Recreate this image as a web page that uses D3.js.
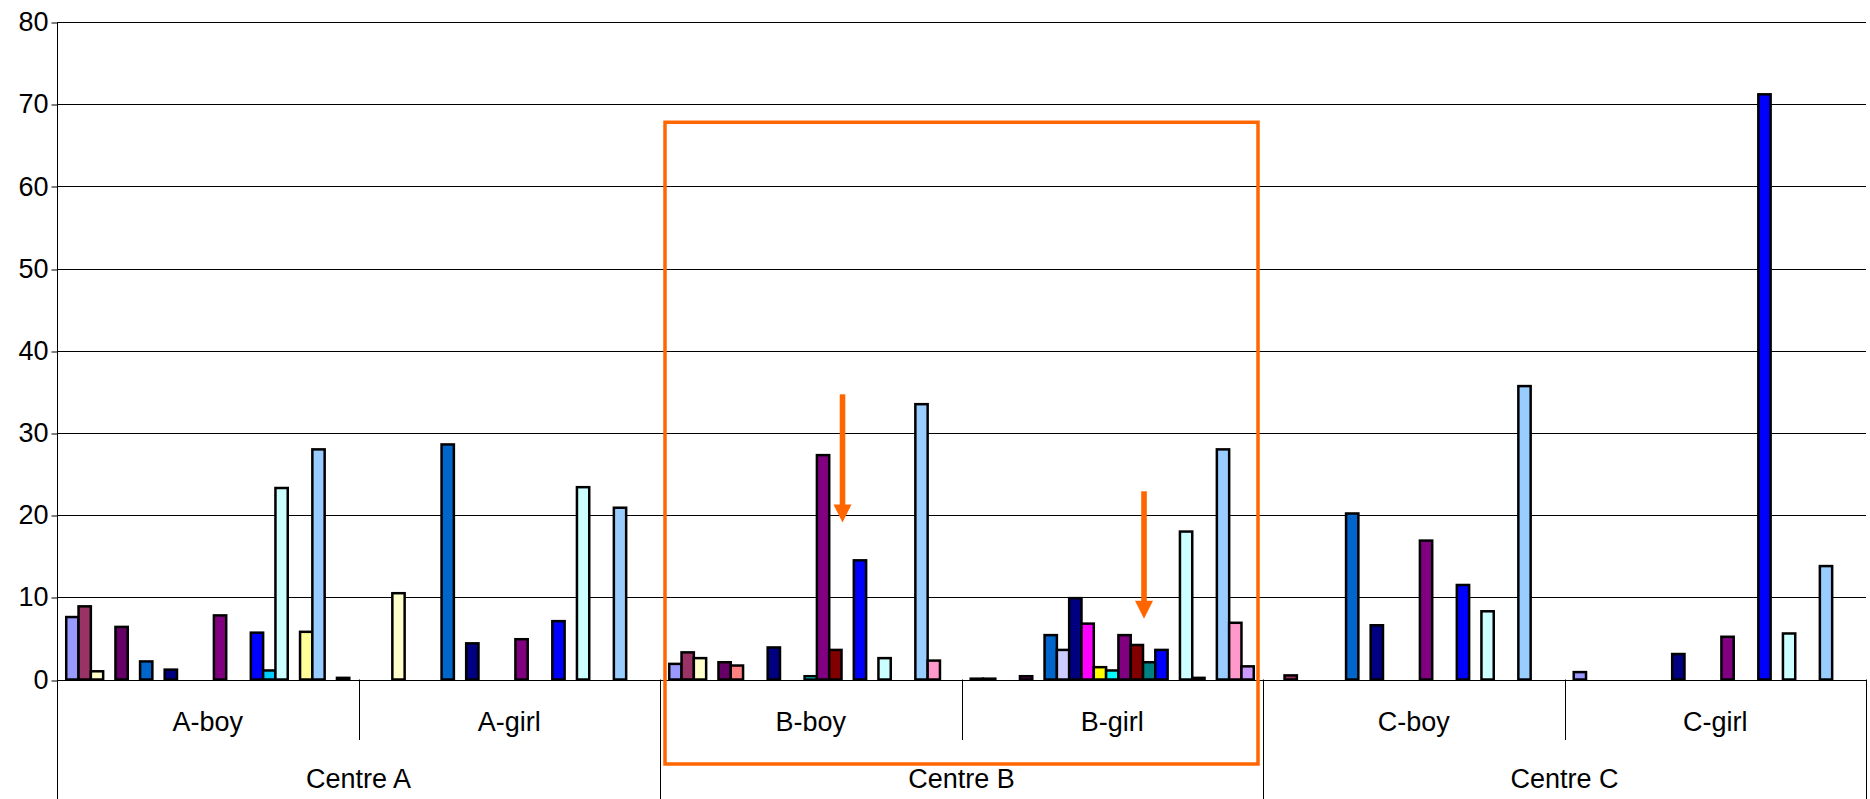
<!DOCTYPE html>
<html>
<head>
<meta charset="utf-8">
<script src="https://cdn.jsdelivr.net/npm/d3@7"></script>
<style>
  html, body { margin: 0; padding: 0; background: #fff; }
  svg { display: block; font-family: "Liberation Sans", Arial, sans-serif; }
</style>
</head>
<body>
<svg id="chart" width="1870" height="799"></svg>
<script>
// Sub-groups along the category axis and the centre each belongs to
const groups = ["A-boy", "A-girl", "B-boy", "B-girl", "C-boy", "C-girl"];
const centres = ["Centre A", "Centre B", "Centre C"];
const groupCentre = ["Centre A", "Centre A", "Centre B", "Centre B", "Centre C", "Centre C"];

// One value per series (23 series) for each sub-group
const aBoy  = [7.6, 8.9, 1.0, 0, 6.4, 0, 2.2, 0, 1.2, 0, 0, 0, 7.8, 0, 0, 5.7, 1.1, 23.3, 0, 5.8, 28.0, 0, 0.2];
const aGirl = [0, 0, 10.5, 0, 0, 0, 28.6, 0, 4.4, 0, 0, 0, 4.9, 0, 0, 7.1, 0, 23.4, 0, 0, 20.9, 0, 0];
const bBoy  = [1.9, 3.3, 2.6, 0, 2.1, 1.7, 0, 0, 3.9, 0, 0, 0.4, 27.3, 3.6, 0, 14.5, 0, 2.6, 0, 0, 33.5, 2.3, 0];
const bGirl = [0.1, 0.1, 0, 0, 0.4, 0, 5.4, 3.6, 9.9, 6.8, 1.5, 1.1, 5.4, 4.2, 2.1, 3.6, 0, 18.0, 0.2, 0, 28.0, 6.9, 1.6];
const cBoy  = [0, 0.5, 0, 0, 0, 0, 20.2, 0, 6.6, 0, 0, 0, 16.9, 0, 0, 11.5, 0, 8.3, 0, 0, 35.7, 0, 0];
const cGirl = [0.9, 0, 0, 0, 0, 0, 0, 0, 3.1, 0, 0, 0, 5.2, 0, 0, 71.2, 0, 5.6, 0, 0, 13.8, 0, 0];
const groupValues = [aBoy, aGirl, bBoy, bGirl, cBoy, cGirl];

// Series fill colours
const seriesColors = [
  "#9999FF", "#993366", "#FFFFCC", "#CCFFFF", "#660066", "#FF8080", "#0066CC", "#CCCCFF",
  "#000080", "#FF00FF", "#FFFF00", "#00FFFF", "#800080", "#800000", "#008080", "#0000FF",
  "#00CCFF", "#CCFFFF", "#CCFFCC", "#FFFF99", "#99CCFF", "#FF99CC", "#CC99FF"
];

const yTicks = [0, 10, 20, 30, 40, 50, 60, 70, 80];

// Highlight annotations: box around the B centre, arrows pointing down at series 15 slots
const boxGroups = ["B-boy", "B-girl"];
const boxTopValue = 67.8;
const arrowGroups = ["B-boy", "B-girl"];
const arrowFrom = [34.7, 22.9];
const arrowTo = [19.1, 7.4];
const arrowSeries = 14;

(function draw() {
  const svg = d3.select("#chart");
  const plotLeft = 57, plotRight = 1866, plotTop = 22, plotBottom = 679.5;
  const fontSize = 27;
  const seriesIdx = d3.range(seriesColors.length);

  const x0 = d3.scaleBand().domain(groups).range([plotLeft, plotRight]).paddingInner(0).paddingOuter(0);
  const x1 = d3.scaleBand().domain(seriesIdx).range([0, x0.bandwidth()]).paddingInner(0).paddingOuter(0.75);
  const y = d3.scaleLinear().domain([0, 80]).range([plotBottom, plotTop]);
  const snap = v => Math.round(v) + 0.5;

  // Horizontal gridlines
  svg.append("g")
    .selectAll("line")
    .data(yTicks.filter(d => d > 0))
    .join("line")
    .attr("x1", plotLeft).attr("x2", plotRight)
    .attr("y1", d => snap(y(d))).attr("y2", d => snap(y(d)))
    .attr("stroke", "#000").attr("stroke-width", 1);

  // Value axis
  const yAxis = svg.append("g")
    .attr("transform", `translate(${plotLeft + 0.5},0)`)
    .call(d3.axisLeft(y).tickValues(yTicks).tickSize(6).tickPadding(3));
  yAxis.select(".domain").remove();
  yAxis.selectAll(".tick line").attr("stroke", "#000")
    .attr("transform", d => `translate(0,${snap(y(d)) - y(d)})`);
  yAxis.selectAll(".tick text")
    .attr("font-size", fontSize).attr("fill", "#000")
    .attr("font-family", "'Liberation Sans', Arial, sans-serif");

  // Bars
  const groupG = svg.append("g")
    .selectAll("g")
    .data(groups)
    .join("g")
    .attr("transform", d => `translate(${x0(d)},0)`);

  groupG.selectAll("rect")
    .data((g, gi) => groupValues[gi].map((v, si) => ({ v, si })).filter(d => d.v > 0))
    .join("rect")
    .attr("x", d => x1(d.si))
    .attr("width", x1.bandwidth())
    .attr("y", d => y(d.v))
    .attr("height", d => y(0) - y(d.v))
    .attr("fill", d => seriesColors[d.si])
    .attr("stroke", "#000")
    .attr("stroke-width", 2.5);

  // Category axis: baseline, left axis line and separators
  const axisG = svg.append("g").attr("stroke", "#000").attr("stroke-width", 1);
  axisG.append("line")
    .attr("x1", plotLeft).attr("x2", plotRight)
    .attr("y1", snap(plotBottom)).attr("y2", snap(plotBottom));
  axisG.append("line")
    .attr("x1", plotLeft + 0.5).attr("x2", plotLeft + 0.5)
    .attr("y1", plotTop).attr("y2", 799);

  const boundaries = groups.map(g => x0(g)).concat([plotRight]);
  axisG.selectAll("line.sep")
    .data(boundaries.slice(1))
    .join("line")
    .attr("class", "sep")
    .attr("x1", d => snap(d)).attr("x2", d => snap(d))
    .attr("y1", plotBottom)
    .attr("y2", (d, i) => ((i + 1) % 2 === 0) ? 799 : 740);

  // Sub-group labels
  svg.append("g")
    .selectAll("text")
    .data(groups)
    .join("text")
    .attr("x", d => x0(d) + x0.bandwidth() / 2)
    .attr("y", 721.5)
    .attr("dy", "0.35em")
    .attr("text-anchor", "middle")
    .attr("font-size", fontSize)
    .text(d => d);

  // Centre labels
  svg.append("g")
    .selectAll("text")
    .data(centres)
    .join("text")
    .attr("x", c => {
      const gs = groups.filter((g, i) => groupCentre[i] === c);
      return (x0(gs[0]) + x0(gs[gs.length - 1]) + x0.bandwidth()) / 2;
    })
    .attr("y", 779)
    .attr("dy", "0.35em")
    .attr("text-anchor", "middle")
    .attr("font-size", fontSize)
    .text(d => d);

  // Highlight box
  const orange = "#FF6600";
  const bx0 = x0(boxGroups[0]) + 5;
  const bx1 = x0(boxGroups[1]) + x0.bandwidth() - 5;
  svg.append("rect")
    .attr("x", bx0)
    .attr("y", y(boxTopValue))
    .attr("width", bx1 - bx0)
    .attr("height", 764 - y(boxTopValue))
    .attr("fill", "none")
    .attr("stroke", orange)
    .attr("stroke-width", 3.5);

  // Arrows
  const arrowG = svg.append("g").attr("fill", orange);
  arrowGroups.forEach((g, i) => {
    const ax = x0(g) + x1(arrowSeries) + 1;
    const yStart = y(arrowFrom[i]);
    const yTip = y(arrowTo[i]);
    const headLen = 18, headHalf = 9, shaftHalf = 2.8;
    arrowG.append("rect")
      .attr("x", ax - shaftHalf).attr("y", yStart)
      .attr("width", shaftHalf * 2).attr("height", yTip - headLen - yStart + 1);
    arrowG.append("path")
      .attr("d", `M${ax - headHalf},${yTip - headLen} L${ax + headHalf},${yTip - headLen} L${ax},${yTip} Z`);
  });
})();
</script>
</body>
</html>
